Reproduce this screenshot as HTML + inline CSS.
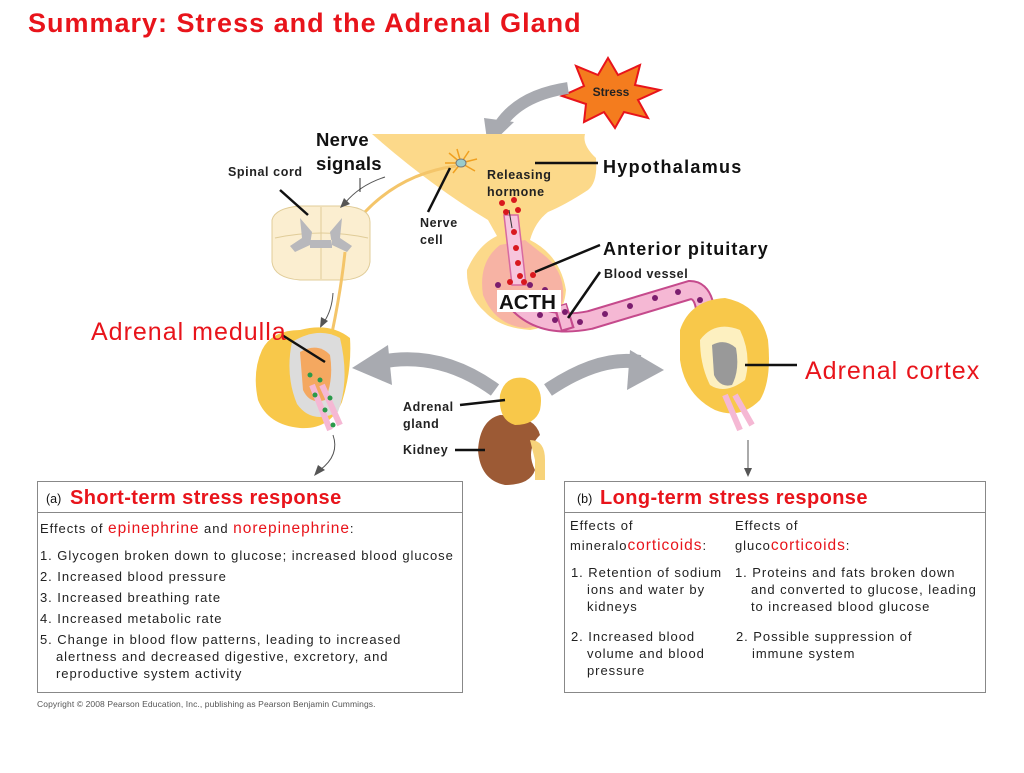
<!DOCTYPE html>
<html><head><meta charset="utf-8"><style>
body{margin:0;background:#fff;width:1024px;height:768px;overflow:hidden;font-family:"Liberation Sans",Arial,sans-serif}
svg text{font-family:"Liberation Sans",Arial,sans-serif}
.bt{font-size:13px;letter-spacing:0.95px;fill:#222}
.lb{font-size:12.5px;font-weight:bold;letter-spacing:0.6px;fill:#222}
</style></head><body>
<svg width="1024" height="768" viewBox="0 0 1024 768" xmlns="http://www.w3.org/2000/svg">
<text x="28" y="32" font-size="27" font-weight="bold" letter-spacing="1" fill="#e8141b">Summary:  Stress and the Adrenal Gland</text>

<polygon points="608,58 618,75 640,65 635,85 660,90 638,100 648,118 624,112 615,128 604,112 584,122 586,104 562,96 584,86 576,66 598,75" fill="#f47c1e" stroke="#e8141b" stroke-width="2"/>
<text x="611" y="96" font-size="12" font-weight="bold" text-anchor="middle" fill="#222">Stress</text>
<path d="M568,88 Q520,95 500,125" stroke="#a8aab0" stroke-width="12" fill="none"/>
<polygon points="484,118 514,122 488,147" fill="#a8aab0"/>

<path d="M372,134 L585,134 Q582,145 596,158 Q598,182 588,190 Q565,205 548,212 Q535,222 530,240 Q560,255 566,290 Q563,325 530,330 Q500,328 485,312 Q466,295 467,270 Q478,245 497,236 L488,220 Q430,185 372,134 Z" fill="#fcd98a"/>
<path d="M500,245 Q478,262 483,295 Q495,325 525,328 Q555,326 563,300 Q566,270 540,252 L525,240 Z" fill="#f7b3a4"/>
<path d="M504,215 L512,285 L526,285 L518,215Z" fill="#f7c5dd" stroke="#d86aa0" stroke-width="1.5"/>
<line x1="509" y1="210" x2="512" y2="228" stroke="#333"/>
<g fill="#d8181e">
<circle cx="502" cy="203" r="3"/><circle cx="514" cy="200" r="3"/><circle cx="506" cy="212" r="3"/><circle cx="518" cy="210" r="3"/>
<circle cx="514" cy="232" r="3"/><circle cx="516" cy="248" r="3"/><circle cx="518" cy="263" r="3"/><circle cx="520" cy="276" r="3"/>
<circle cx="510" cy="282" r="3"/><circle cx="524" cy="282" r="3"/><circle cx="533" cy="275" r="3"/>
</g>
<path d="M515,300 Q540,330 590,320 Q640,305 690,290 Q710,290 705,340" stroke="#c54a8c" stroke-width="20" fill="none"/>
<path d="M515,300 Q540,330 590,320 Q640,305 690,290 Q710,290 705,340" stroke="#f5b8d4" stroke-width="16" fill="none"/>
<path d="M560,305 L568,330" stroke="#c54a8c" stroke-width="14"/>
<path d="M561,306 L567,328" stroke="#f5b8d4" stroke-width="10"/>
<g fill="#7b1d6e">
<circle cx="505" cy="297" r="3"/><circle cx="520" cy="298" r="3"/><circle cx="540" cy="315" r="3"/><circle cx="555" cy="320" r="3"/><circle cx="580" cy="322" r="3"/>
<circle cx="605" cy="314" r="3"/><circle cx="630" cy="306" r="3"/><circle cx="655" cy="298" r="3"/><circle cx="678" cy="292" r="3"/><circle cx="700" cy="300" r="3"/><circle cx="704" cy="318" r="3"/><circle cx="704" cy="335" r="3"/>
<circle cx="530" cy="285" r="3"/><circle cx="545" cy="290" r="3"/><circle cx="498" cy="285" r="3"/><circle cx="565" cy="312" r="3"/>
</g>
<path d="M461,163 l-12,-10 M461,163 l-4,-14 M461,163 l8,-12 M461,163 l16,-4 M461,163 l14,8 M461,163 l-8,10 M461,163 l-16,0" stroke="#f0a020" stroke-width="1.5"/>
<ellipse cx="461" cy="163" rx="5" ry="4" fill="#9cc" stroke="#777"/>
<path d="M456,166 Q390,175 350,230 Q345,240 343,248" stroke="#f4c56a" stroke-width="3" fill="none"/>

<path d="M272,220 Q275,208 300,206 L345,206 Q370,208 370,222 L370,262 Q368,278 345,280 L300,280 Q274,278 272,262 Z" fill="#fbeed0" stroke="#e0cc98"/>
<line x1="321" y1="207" x2="321" y2="279" stroke="#e0cc98"/>
<path d="M275,238 Q322,228 368,238" stroke="#e0cc98" fill="none"/>
<path d="M300,218 L312,232 L310,245 L295,252 L290,246 L302,238 Z M342,218 L330,232 L332,245 L347,252 L352,246 L340,238 Z M310,240 L332,240 L332,248 L310,248Z" fill="#b8b8bc"/>
<path d="M345,252 Q340,300 326,360" stroke="#f4c56a" stroke-width="3" fill="none"/>
<path d="M385,177 Q360,185 345,203" stroke="#555" fill="none"/><polygon points="340,208 344,198 350,204" fill="#555"/>
<path d="M333,293 Q332,310 324,322" stroke="#555" fill="none"/><polygon points="320,328 321,317 328,321" fill="#555"/>

<path d="M262,350 Q272,330 300,330 Q330,322 350,338 Q352,370 342,402 Q330,430 300,428 Q268,425 258,400 Q252,372 262,350Z" fill="#f8c84a"/>
<path d="M292,342 Q318,326 340,338 Q350,380 338,412 Q312,425 297,404 Q285,375 292,342Z" fill="#dcdcdc"/>
<path d="M300,352 Q318,342 330,355 Q334,380 325,400 Q310,405 303,390Z" fill="#f4a860"/>
<path d="M312,385 L330,430 M322,385 L340,425" stroke="#f5b8d4" stroke-width="6"/>
<g fill="#2a9a4a"><circle cx="310" cy="375" r="2.5"/><circle cx="320" cy="380" r="2.5"/><circle cx="315" cy="395" r="2.5"/><circle cx="325" cy="410" r="2.5"/><circle cx="330" cy="398" r="2.5"/><circle cx="333" cy="425" r="2.5"/></g>

<path d="M680,330 Q690,300 725,298 Q760,305 768,340 Q772,380 760,400 Q740,420 715,410 Q685,395 680,360Z" fill="#f8c84a"/>
<path d="M700,340 Q715,320 740,330 Q752,355 745,380 Q725,395 710,385 Q700,365 700,340Z" fill="#fdf0c0"/>
<path d="M712,345 Q725,338 736,348 Q740,370 732,385 Q720,388 714,375Z" fill="#999"/>
<path d="M725,395 L740,430 M735,395 L752,425" stroke="#f5b8d4" stroke-width="6"/>

<path d="M500,415 Q480,420 478,450 Q480,480 505,485 Q530,485 535,470 Q525,450 540,435 Q535,415 500,415Z" fill="#9c5a35"/>
<path d="M530,440 Q545,440 545,460 L545,480 L535,480 L535,460 Z" fill="#f7d37a"/>
<path d="M500,395 Q505,375 525,378 Q545,385 540,410 Q535,425 515,425 Q498,420 500,395Z" fill="#f8c84a"/>
<path d="M495,390 Q440,350 380,362" stroke="#a8aab0" stroke-width="14" fill="none"/>
<polygon points="352,368 388,345 392,385" fill="#a8aab0"/>
<path d="M548,390 Q600,355 640,362" stroke="#a8aab0" stroke-width="14" fill="none"/>
<polygon points="664,370 630,350 627,390" fill="#a8aab0"/>
<path d="M333,435 Q340,455 320,470" stroke="#555" fill="none"/><polygon points="314,476 318,465 325,470" fill="#555"/>
<path d="M748,440 L748,470" stroke="#555"/><polygon points="744,468 752,468 748,477" fill="#555"/>

<g stroke="#111" stroke-width="2.5">
<line x1="280" y1="190" x2="308" y2="215"/>
<line x1="450" y1="168" x2="428" y2="212"/>
<line x1="535" y1="163" x2="598" y2="163"/>
<line x1="535" y1="272" x2="600" y2="245"/>
<line x1="568" y1="318" x2="600" y2="272"/>
<line x1="282" y1="335" x2="325" y2="362"/>
<line x1="745" y1="365" x2="797" y2="365"/>
<line x1="460" y1="405" x2="505" y2="400"/>
<line x1="455" y1="450" x2="485" y2="450"/>
</g>
<line x1="360" y1="178" x2="360" y2="192" stroke="#333"/>
<text x="228" y="176" class="lb">Spinal cord</text>
<text x="316" y="146" font-size="18.5" font-weight="bold" letter-spacing="0.3" fill="#111">Nerve</text>
<text x="316" y="170" font-size="18.5" font-weight="bold" letter-spacing="0.3" fill="#111">signals</text>
<text x="487" y="179" class="lb">Releasing</text>
<text x="487" y="196" class="lb">hormone</text>
<text x="420" y="227" class="lb">Nerve</text>
<text x="420" y="244" class="lb">cell</text>
<text x="603" y="173" font-size="18" font-weight="bold" letter-spacing="1.3" fill="#111">Hypothalamus</text>
<text x="603" y="255" font-size="18" font-weight="bold" letter-spacing="1.1" fill="#111">Anterior pituitary</text>
<text x="604" y="278" class="lb">Blood vessel</text>
<rect x="497" y="290" width="64" height="22" fill="#fff"/>
<text x="499" y="309" font-size="20.5" font-weight="bold" fill="#111">ACTH</text>
<text x="91" y="340" font-size="25" letter-spacing="1" fill="#e8141b">Adrenal medulla</text>
<text x="805" y="379" font-size="25" letter-spacing="1" fill="#e8141b">Adrenal cortex</text>
<text x="403" y="411" class="lb">Adrenal</text>
<text x="403" y="428" class="lb">gland</text>
<text x="403" y="454" class="lb">Kidney</text>

<rect x="37.5" y="481.5" width="425" height="211" fill="#fff" stroke="#888"/>
<line x1="37" y1="512.5" x2="462" y2="512.5" stroke="#888"/>
<text x="46" y="503" font-size="12.5" fill="#111">(a)</text>
<text x="70" y="504" font-size="20" font-weight="bold" letter-spacing="0.4" fill="#e8141b">Short-term stress response</text>
<text x="40" y="533" class="bt">Effects  of <tspan fill="#e8141b" font-size="15.5">epinephrine</tspan> and <tspan fill="#e8141b" font-size="15.5">norepinephrine</tspan>:</text>
<text x="40" y="560" class="bt">1. Glycogen broken down to glucose; increased blood glucose</text>
<text x="40" y="581" class="bt">2. Increased blood pressure</text>
<text x="40" y="602" class="bt">3. Increased breathing rate</text>
<text x="40" y="623" class="bt">4. Increased metabolic rate</text>
<text x="40" y="644" class="bt">5. Change in blood flow patterns, leading to increased</text>
<text x="56" y="661" class="bt">alertness and decreased digestive, excretory, and</text>
<text x="56" y="678" class="bt">reproductive system  activity</text>

<rect x="564.5" y="481.5" width="421" height="211" fill="#fff" stroke="#888"/>
<line x1="564" y1="512.5" x2="985" y2="512.5" stroke="#888"/>
<text x="577" y="503" font-size="12.5" fill="#111">(b)</text>
<text x="600" y="504" font-size="20" font-weight="bold" letter-spacing="0.4" fill="#e8141b">Long-term stress response</text>
<text x="570" y="530" class="bt">Effects  of</text>
<text x="570" y="550" class="bt">mineralo<tspan fill="#e8141b" font-size="15.5">corticoids</tspan>:</text>
<text x="735" y="530" class="bt">Effects  of</text>
<text x="735" y="550" class="bt">gluco<tspan fill="#e8141b" font-size="15.5">corticoids</tspan>:</text>
<text x="571" y="577" class="bt">1. Retention of sodium</text>
<text x="587" y="594" class="bt">ions and water by</text>
<text x="587" y="611" class="bt">kidneys</text>
<text x="571" y="641" class="bt">2. Increased blood</text>
<text x="587" y="658" class="bt">volume and blood</text>
<text x="587" y="675" class="bt">pressure</text>
<text x="735" y="577" class="bt">1. Proteins and fats broken down</text>
<text x="751" y="594" class="bt">and converted to glucose, leading</text>
<text x="751" y="611" class="bt">to increased blood glucose</text>
<text x="736" y="641" class="bt">2. Possible suppression  of</text>
<text x="752" y="658" class="bt">immune system</text>
<text x="37" y="707" font-size="8.5" letter-spacing="0.1" fill="#555">Copyright © 2008 Pearson Education, Inc., publishing as Pearson Benjamin Cummings.</text>
</svg>
</body></html>
